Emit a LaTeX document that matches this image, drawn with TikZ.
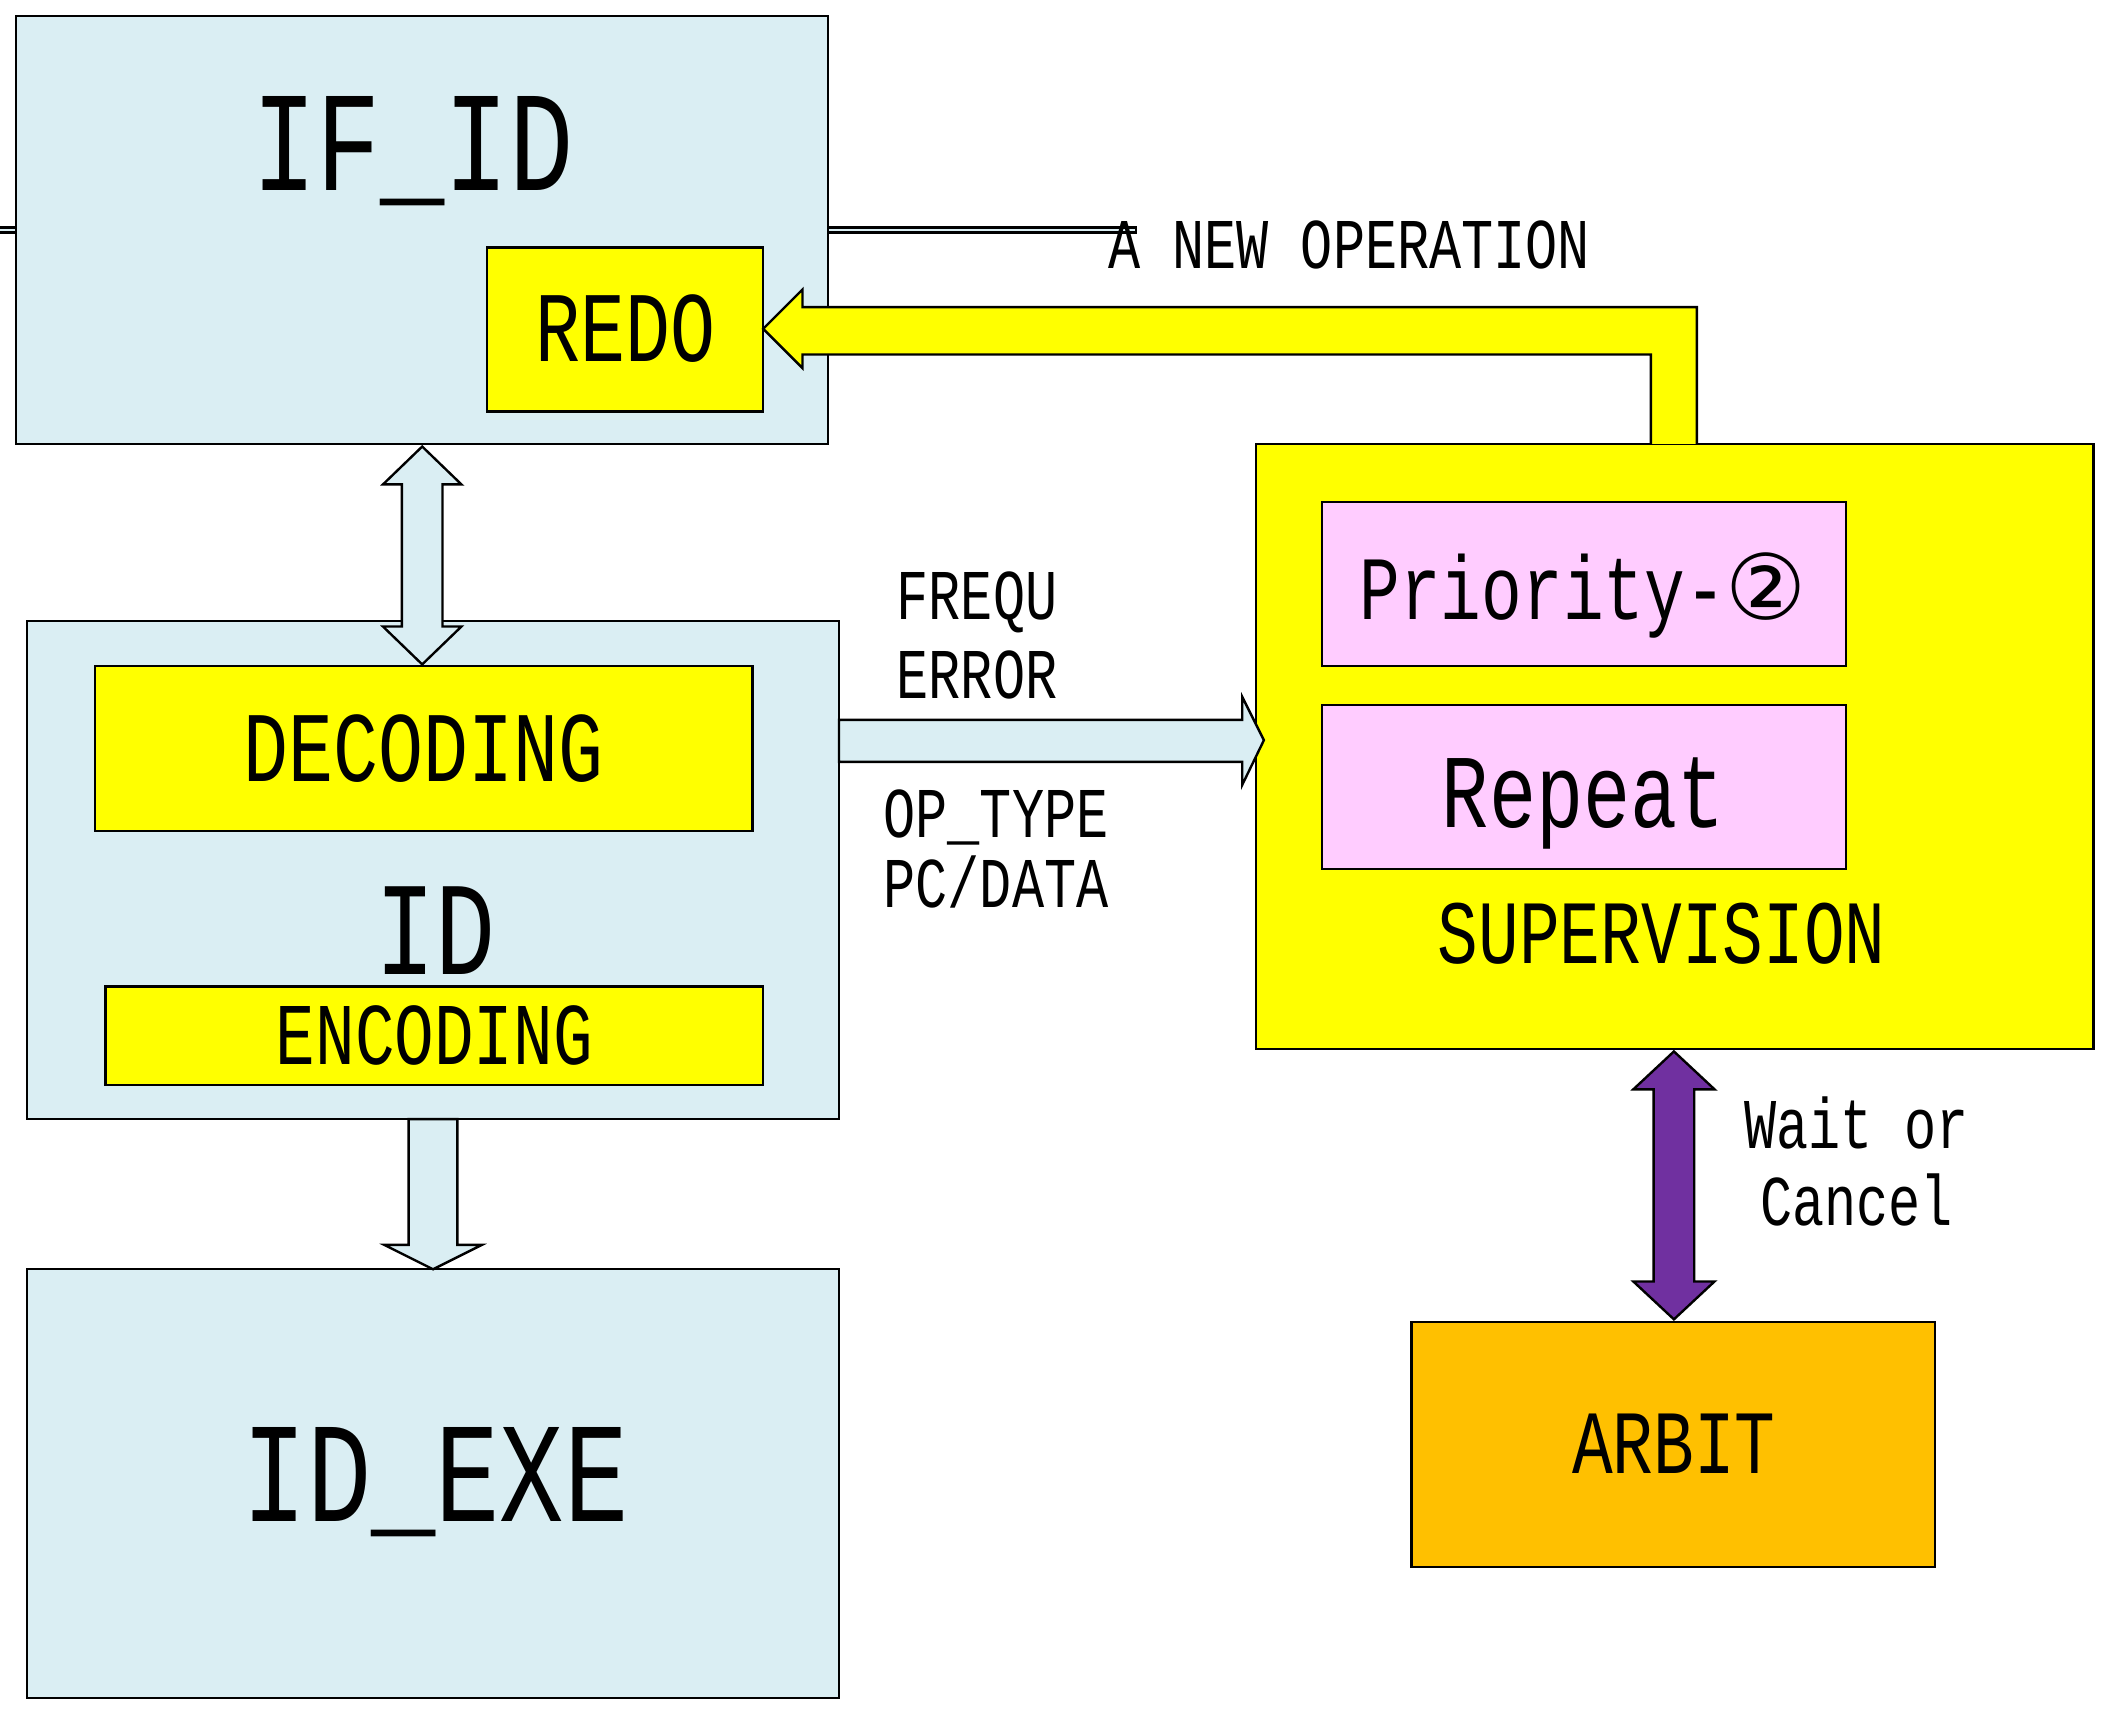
\documentclass[tikz,border=0pt]{standalone}
\usepackage{fontspec}
\setmainfont{Liberation Mono}[FakeStretch=0.75]
\newfontfamily\circfont{DejaVu Sans}
\definecolor{lb}{HTML}{DAEEF3}
\definecolor{yl}{HTML}{FFFF00}
\definecolor{pk}{HTML}{FFCCFF}
\definecolor{og}{HTML}{FFC000}
\definecolor{pu}{HTML}{7030A0}
\tikzset{box/.style={draw=black,line width=0.5pt},
 fs/.style={font=\fontsize{#1}{#1}\selectfont}}
\begin{document}
\begin{tikzpicture}[x=0.01cm,y=-0.01cm]
\useasboundingbox (0,0) rectangle (1560,1268);
\node[box,fill=lb,minimum width=600\pgflinewidth,inner sep=0] (ifid) at (312,170) {};
\draw[box,fill=lb] (12,12) rectangle (612,328);
\node[fs=30] (ifidl) at (305,112) {IF\_ID};
\draw[box,fill=yl] (360,183) rectangle (564,304);
\node[fs=21] (redo) at (462,243) {REDO};
\draw[box,fill=lb] (20,459) rectangle (620,827);
\draw[box,fill=yl] (70,492) rectangle (556,614);
\node[fs=21] (dec) at (313,553) {DECODING};
\node[fs=28] (id) at (322,688) {ID};
\draw[box,fill=yl] (78,729) rectangle (564,802);
\node[fs=18.5] (enc) at (321,765) {ENCODING};
\draw[box,fill=lb] (20,938) rectangle (620,1255);
\node[fs=30] (idexe) at (322,1095) {ID\_EXE};
\draw[box,fill=yl] (928,328) rectangle (1547,775);
\draw[box,fill=pk] (977,371) rectangle (1364,492);
\node[fs=19] (prio) at (1170,440) {Priority-{\circfont ②}};
\draw[box,fill=pk] (977,521) rectangle (1364,642);
\node[fs=22] (rep) at (1170,594) {Repeat};
\node[fs=19] (sup) at (1228,690) {SUPERVISION};
\draw[box,fill=og] (1043,977) rectangle (1430,1158);
\node[fs=19] (arb) at (1237,1067) {ARBIT};
% arrows
\draw[box,fill=lb] (312,330) -- (341,358) -- (327,358) -- (327,463) -- (341,463) -- (312,491) -- (283,463) -- (297,463) -- (297,358) -- (283,358) -- cycle;
\draw[box,fill=lb] (302,827) -- (338,827) -- (338,920) -- (356,920) -- (320,938) -- (284,920) -- (302,920) -- cycle;
\draw[box,fill=lb] (620,532) -- (918,532) -- (918,515) -- (934,547) -- (918,580) -- (918,563) -- (620,563) -- cycle;
\draw[box,fill=yl] (1220,328) -- (1220,262) -- (593,262) -- (593,272) -- (564,243) -- (593,214) -- (593,227) -- (1254,227) -- (1254,328);
\draw[draw=black,line width=0.5pt,fill=pu] (1237,777) -- (1267,805) -- (1252,805) -- (1252,947) -- (1267,947) -- (1237,975) -- (1207,947) -- (1222,947) -- (1222,805) -- (1207,805) -- cycle;
\node[fs=15] (newop) at (997,181) {A NEW OPERATION};
\node[fs=15] (frequ) at (722,445) {FREQU};
\node[fs=15] (err) at (722,499) {ERROR};
\node[fs=15] (opt) at (736,604) {OP\_TYPE};
\node[fs=15] (pcd) at (736,652) {PC/DATA};
\node[fs=15] (wait) at (1372,830) {Wait or};
\node[fs=15] (canc) at (1372,887) {Cancel};
\end{tikzpicture}
\end{document}
